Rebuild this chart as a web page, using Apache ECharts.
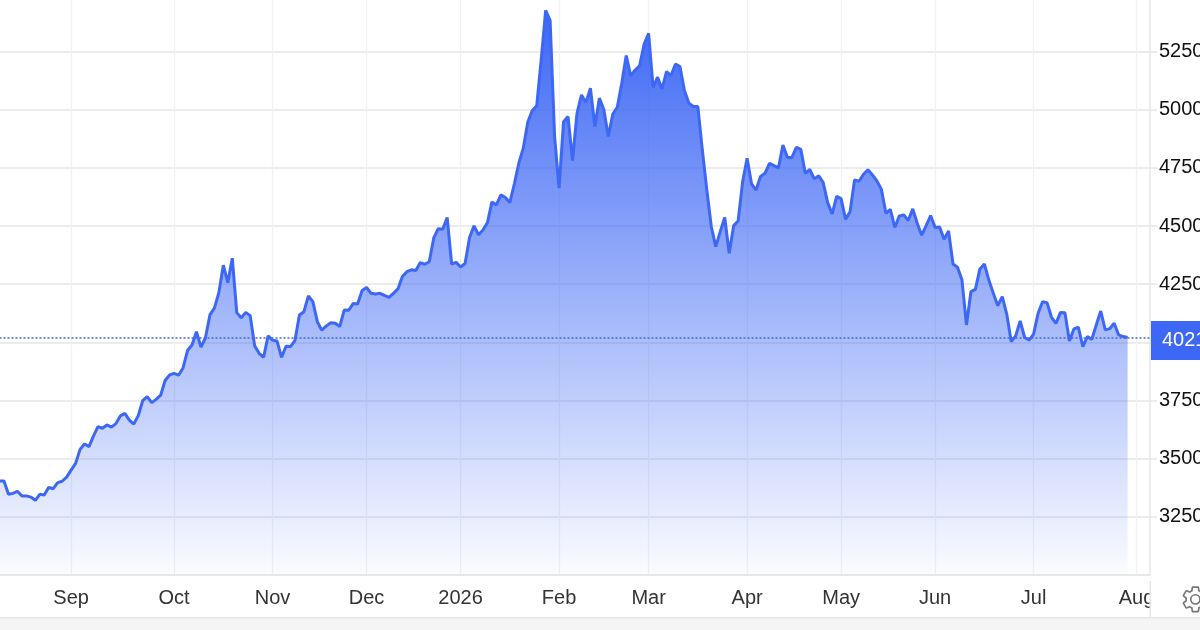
<!DOCTYPE html>
<html><head><meta charset="utf-8">
<style>html,body{margin:0;padding:0;background:#fff}#c{width:1200px;height:630px}</style>
<script src="https://cdn.jsdelivr.net/npm/echarts@6/dist/echarts.min.js"></script>
</head><body><div id="c"></div>
<script>
const priceValues = [3404,
3404,3347,3351,3360,3340,3340,3335,3321,3347,3344,3377,3371,3397,3403,3421,3451,3480,3540,3563,3552,
3598,3638,3631,3645,3636,3651,3684,3695,3666,3649,3685,3750,3767,3741,3755,3773,3836,3860,3867,3859,
3890,3965,3989,4046,3980,4019,4118,4147,4214,4332,4257,4362,4128,4106,4129,4115,3985,3953,3936,4028,
4009,4006,3936,3983,3982,4008,4118,4132,4200,4175,4089,4052,4071,4084,4082,4068,4139,4138,4167,4165,
4223,4236,4211,4208,4211,4202,4194,4211,4230,
4283,4304,4312,4309,4343,4336,4347,4449,4489,4486,4537,4337,4344,4324,4339,4451,4501,4463,4483,4515,
4604,4591,4634,4623,4601,4681,4770,4835,4946,4997,5017,5214,5427,5384,4885,4663,4949,4971,4782,4985,
5064,5031,5093,4928,5050,5000,4885,4982,5011,5114,5233,5146,5171,5190,5283,5329,5096,5140,5090,5164,
5147,5197,5186,5083,5028,5014,5014,4827,4655,4498,4412,4476,4537,4383,4502,4522,4691,4792,4681,4655,
4713,4727,4770,4760,4750,4848,4796,4794,4839,
4830,4727,4744,4703,4716,4687,4601,4552,4628,4618,4529,4562,4698,4693,4723,4742,4720,4694,4658,4555,
4572,4494,4544,4548,4524,4574,4512,4461,4502,4545,4494,4496,4443,4479,4337,4323,4268,4075,4218,4228,
4316,4337,4268,4211,4158,4197,4122,4003,4028,4092,4021,4010,4036,4125,4175,4171,4108,4082,4129,4127,
4006,4058,4065,3982,4025,4013,4075,4135,4054,4059,4082,4032,4025,4021];
const lastPrice = 4021;
const monthLabels = ['Sep','Oct','Nov','Dec','2026','Feb','Mar','Apr','May','Jun','Jul','Aug'];
const monthSlots = [16,39,61,82,103,125,145,167,188,209,231,254];
const slotCount = 258;
const categories = Array.from({length: slotCount}, (_, k) => {
  const m = monthSlots.indexOf(k);
  return m >= 0 ? monthLabels[m] : 'd' + k;
});
const FONT = '"Liberation Sans", Arial, sans-serif';
const BLUE = '#3d67f5';
const gear = 'M19.14 12.94c.04-.3.06-.61.06-.94 0-.32-.02-.64-.07-.94l2.03-1.58c.18-.14.23-.41.12-.61l-1.92-3.32c-.12-.22-.37-.29-.59-.22l-2.39.96c-.5-.38-1.03-.7-1.62-.94l-.36-2.54c-.04-.24-.24-.41-.48-.41h-3.84c-.24 0-.43.17-.47.41l-.36 2.54c-.59.24-1.13.57-1.62.94l-2.39-.96c-.22-.08-.47 0-.59.22L2.74 8.87c-.12.21-.08.47.12.61l2.03 1.58c-.05.3-.09.63-.09.94s.02.64.07.94l-2.03 1.58c-.18.14-.23.41-.12.61l1.92 3.32c.12.22.37.29.59.22l2.39-.96c.5.38 1.03.7 1.62.94l.36 2.54c.05.24.24.41.48.41h3.84c.24 0 .44-.17.47-.41l.36-2.54c.59-.24 1.13-.56 1.62-.94l2.39.96c.22.08.47 0 .59-.22l1.92-3.32c.12-.22.07-.47-.12-.61l-2.01-1.58zM12 15.6c-1.98 0-3.6-1.62-3.6-3.6s1.62-3.6 3.6-3.6 3.6 1.62 3.6 3.6-1.62 3.6-3.6 3.6z';
echarts.graphic.registerShape('gearIcon', echarts.graphic.extendPath(gear, {}));
const chart = echarts.init(document.getElementById('c'), null, {renderer:'canvas'});
chart.setOption({
  animation:false,
  backgroundColor:'#fff',
  textStyle:{fontFamily:FONT},
  grid:{left:-0.5, top:0, width:1150.5, height:575, containLabel:false, outerBoundsMode:'none'},
  xAxis:{
    type:'category', data:categories, boundaryGap:false,
    axisLine:{show:true, lineStyle:{color:'#e6e6e6', width:1.5}},
    axisTick:{show:false},
    axisLabel:{
      interval:(i)=>monthSlots.includes(i), color:'#333', fontSize:20, margin:13,
      fontFamily:FONT, hideOverlap:false
    },
    splitLine:{show:true, interval:(i)=>monthSlots.includes(i), lineStyle:{color:'#eef1f7', width:1.3}}
  },
  yAxis:{
    type:'value', position:'right', min:3000, max:5472, interval:250,
    axisLine:{show:true, lineStyle:{color:'#e6e6e6', width:1.5}},
    axisTick:{show:true, length:7, lineStyle:{color:'#e6e6e6', width:1.5}},
    axisLabel:{color:'#111', fontSize:20, margin:9, showMinLabel:false, showMaxLabel:false, fontFamily:FONT, formatter:(v)=>String(v)},
    splitLine:{show:true, showMaxLine:false, lineStyle:{color:'#e6e6e6', width:1.5}}
  },
  series:[{
    type:'line', data:priceValues, symbol:'none', smooth:false, clip:true,
    lineStyle:{color:BLUE, width:3},
    itemStyle:{color:BLUE},
    areaStyle:{opacity:1, color:new echarts.graphic.LinearGradient(0,0,0,1,[
      {offset:0,color:'rgba(61,103,245,1)'},
      {offset:1,color:'rgba(61,103,245,0.02)'}
    ])},
    markLine:{
      silent:true, symbol:'none', animation:false,
      lineStyle:{color:BLUE, type:[2,2], width:1.5},
      data:[{yAxis:lastPrice}],
      label:{show:true, position:'end', formatter:String(lastPrice), distance:1, offset:[0,3],
        color:'#fff', fontSize:20, fontFamily:FONT, backgroundColor:BLUE, padding:[10,8,9,11]}
    }
  }],
  graphic:[
    {type:'rect', z:50, shape:{x:1151,y:577,width:49,height:41}, style:{fill:'#fff'}},
    {type:'rect', z:51, shape:{x:0,y:618,width:1200,height:12}, style:{fill:'#f5f5f5'}},
    {type:'rect', z:51, shape:{x:0,y:617,width:1200,height:1.5}, style:{fill:'#e6e6e6'}},
    {type:'rect', z:51, shape:{x:1149.5,y:581,width:1.5,height:37}, style:{fill:'#e6e6e6'}},
    {type:'gearIcon', z:52, x:1180, y:584, scaleX:1.28, scaleY:1.28,
      style:{fill:'none', stroke:'#777', lineWidth:1.3}}
  ]
});
</script></body></html>
